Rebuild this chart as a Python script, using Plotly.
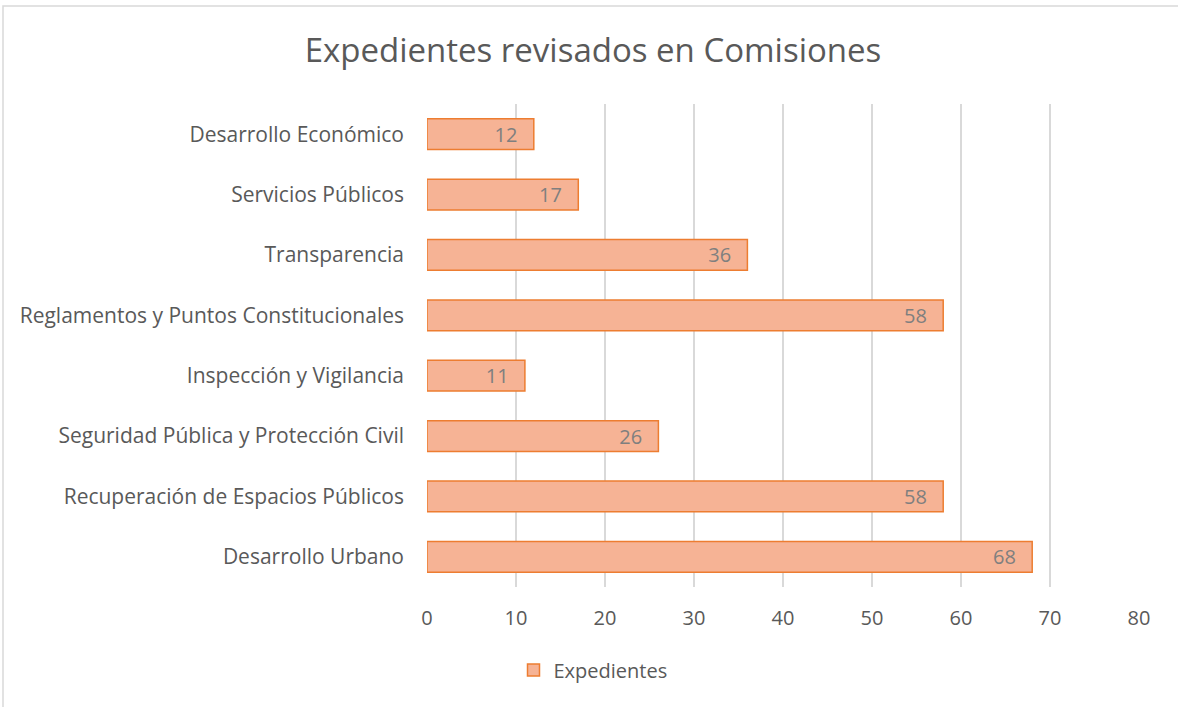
import plotly.graph_objects as go

categories = [
    "Desarrollo Urbano",
    "Recuperación de Espacios Públicos",
    "Seguridad Pública y Protección Civil",
    "Inspección y Vigilancia",
    "Reglamentos y Puntos Constitucionales",
    "Transparencia",
    "Servicios Públicos",
    "Desarrollo Económico",
]
expedientes = [68, 58, 26, 11, 58, 36, 17, 12]
x_ticks = [0, 10, 20, 30, 40, 50, 60, 70, 80]

W, H = 1178, 707
ml, mr, mt, mb = 427, 39, 104, 120
pw, ph = W - ml - mr, H - mt - mb

font = "Open Sans, sans-serif"

fig = go.Figure()
fig.add_trace(
    go.Bar(
        y=categories,
        x=expedientes,
        orientation="h",
        name="Expedientes",
        marker=dict(color="#F6B395", line=dict(color="#ED7D31", width=1.5)),
        texttemplate="%{x}\u2002\u2009",
        textposition="inside",
        insidetextanchor="end",
        textangle=0,
        constraintext="none",
        textfont=dict(color="#7F7F7F", size=20, family=font),
    )
)

fig.update_layout(
    width=W,
    height=H,
    paper_bgcolor="white",
    plot_bgcolor="white",
    margin=dict(l=ml, r=mr, t=mt, b=mb),
    bargap=0.49,
    font=dict(family=font, color="#595959", size=21),
    title=dict(
        text="Expedientes revisados en Comisiones",
        x=593 / W,
        xanchor="center",
        y=1 - 50 / H,
        yanchor="middle",
        font=dict(size=33, color="#595959", family=font),
    ),
    xaxis=dict(
        range=[0, 80],
        tickvals=x_ticks,
        showgrid=True,
        gridcolor="#D9D9D9",
        gridwidth=1.5,
        zeroline=False,
        showline=False,
        ticks="",
        ticklabelstandoff=17,
        tickfont=dict(size=20, color="#595959"),
    ),
    yaxis=dict(
        showgrid=False,
        showline=False,
        ticks="",
        ticklabelstandoff=22,
        tickfont=dict(size=21, color="#595959"),
    ),
    showlegend=True,
    legend=dict(
        orientation="h",
        x=(593 - ml) / pw,
        xanchor="center",
        y=-(670 - (H - mb)) / ph,
        yanchor="middle",
        font=dict(size=20, color="#595959"),
    ),
)

# chart frame
fig.add_shape(
    type="rect",
    xref="paper",
    yref="paper",
    x0=(3 - ml) / pw,
    x1=(W + 5 - ml) / pw,
    y0=-(H + 5 - (H - mb)) / ph,
    y1=1 + (mt - 6) / ph,
    line=dict(color="#D9D9D9", width=1.5),
    fillcolor="rgba(0,0,0,0)",
    layer="below",
)

# drop the default page margin so the figure sits at the window corner
fig.write_html(
    "out.html",
    config={"displayModeBar": False},
    post_script="document.body.style.margin='0';",
)
